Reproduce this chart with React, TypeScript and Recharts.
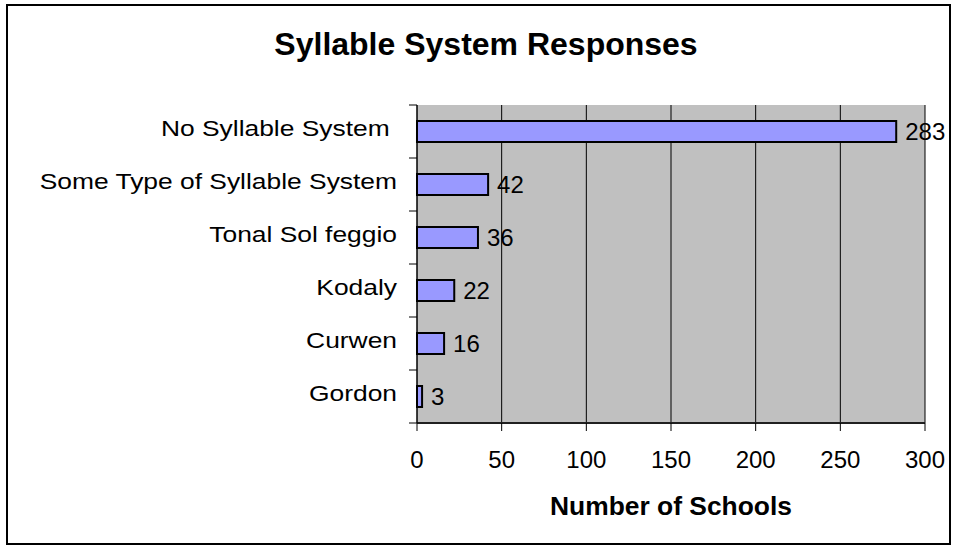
import React from 'react';
import { BarChart, Bar, XAxis, YAxis, CartesianGrid, LabelList } from 'recharts';

const categories = ['No Syllable System\u00A0', 'Some Type of Syllable System', 'Tonal Sol feggio', 'Kodaly', 'Curwen', 'Gordon'];
const schoolCounts = [283, 42, 36, 22, 16, 3];
const xTicks = [0, 50, 100, 150, 200, 250, 300];

const data = categories.map((name, i) => ({ name, value: schoolCounts[i] }));

const FONT = '"Liberation Sans", Arial, sans-serif';
const TICK_MARGIN = 12;
const TICK_SIZE = 8;

const CatTick = (props: any) => {
  const { x, y, payload, index } = props;
  const half = payload && payload.offset ? payload.offset : 26.5;
  const lx2 = x + TICK_MARGIN + TICK_SIZE;
  const lx1 = x + TICK_MARGIN;
  return (
    <g>
      <line x1={lx1} x2={lx2} y1={y - half} y2={y - half} stroke="#000" strokeWidth={1} />
      {index === categories.length - 1 && (
        <line x1={lx1} x2={lx2} y1={y + half} y2={y + half} stroke="#000" strokeWidth={1} />
      )}
      <text
        x={x}
        y={y}
        dy={5}
        textAnchor="end"
        fontSize={22}
        fontFamily={FONT}
        fill="#000"
        style={{ whiteSpace: 'pre' }}
        transform={`translate(${x} 0) scale(1.2 1) translate(${-x} 0)`}
      >
        {payload.value}
      </text>
    </g>
  );
};

export default function App() {
  return (
    <div style={{ position: 'fixed', left: 0, top: 0, width: 957, height: 548, background: '#fff', fontFamily: FONT }}>
      <div
        style={{
          position: 'absolute',
          left: 6,
          top: 4,
          width: 945,
          height: 541,
          border: '2px solid #000',
          boxSizing: 'border-box',
        }}
      />
      <BarChart
        width={957}
        height={548}
        data={data}
        layout="vertical"
        margin={{ top: 105, right: 32, bottom: 65, left: 0 }}
        barCategoryGap={0}
      >
        <CartesianGrid fill="#C0C0C0" stroke="#000" horizontal={false} vertical={true} />
        <XAxis
          type="number"
          domain={[0, 300]}
          ticks={xTicks}
          interval={0}
          tick={{ fontSize: 24, fill: '#000', fontFamily: FONT }}
          tickSize={8}
          tickMargin={20}
          tickLine={{ stroke: '#000' }}
          axisLine={{ stroke: '#202020', strokeWidth: 2 }}
          height={60}
        />
        <XAxis
          xAxisId="top"
          orientation="top"
          type="number"
          domain={[0, 300]}
          tick={false}
          tickLine={false}
          axisLine={{ stroke: '#808080', strokeWidth: 2 }}
          height={0}
        />
        <YAxis
          type="category"
          dataKey="name"
          width={417}
          interval={0}
          tick={<CatTick />}
          tickLine={false}
          tickSize={TICK_SIZE}
          tickMargin={TICK_MARGIN}
          axisLine={{ stroke: '#000', strokeWidth: 1 }}
        />
        <YAxis
          yAxisId="right"
          orientation="right"
          type="number"
          domain={[0, 1]}
          tick={false}
          tickLine={false}
          axisLine={{ stroke: '#808080', strokeWidth: 2 }}
          width={0}
        />
        <Bar
          dataKey="value"
          fill="#9999FF"
          stroke="#000"
          strokeWidth={2}
          barSize={21}
          isAnimationActive={false}
        >
          <LabelList dataKey="value" position="right" offset={9} fontSize={24} fill="#000" fontFamily={FONT} />
        </Bar>
      </BarChart>
      <svg
        width={957}
        height={548}
        style={{ position: 'absolute', left: 0, top: 0, pointerEvents: 'none' }}
      >
        <text x={486} y={55} textAnchor="middle" fontSize={32} fontWeight="bold" fontFamily={FONT} fill="#000">
          Syllable System Responses
        </text>
        <text x={671} y={515} textAnchor="middle" fontSize={26.4} fontWeight="bold" fontFamily={FONT} fill="#000">
          Number of Schools
        </text>
      </svg>
    </div>
  );
}
